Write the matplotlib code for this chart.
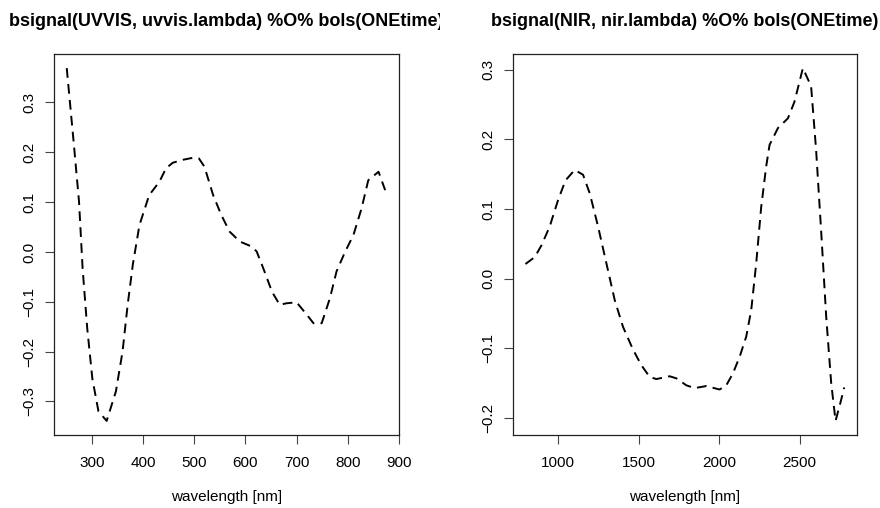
import matplotlib
matplotlib.use("Agg")
import matplotlib.pyplot as plt
from matplotlib.transforms import Bbox, TransformedBbox

plt.rcParams['font.family'] = ['Liberation Sans', 'DejaVu Sans']
plt.rcParams['lines.scale_dashes'] = False

uvvis_lambda = [251, 265, 275, 282, 291, 301, 313, 329, 347, 360, 370, 380, 393, 412,
                432, 445, 458, 478, 497, 509, 520, 537, 553, 569, 589, 612, 622, 635,
                652, 667, 680, 700, 720, 733, 749, 765, 778, 795, 811, 827, 840, 860, 873]
uvvis_signal = [0.369, 0.215, 0.101, -0.033, -0.153, -0.254, -0.320, -0.339, -0.280,
                -0.200, -0.106, -0.026, 0.054, 0.114, 0.141, 0.168, 0.179, 0.185, 0.189,
                0.188, 0.171, 0.114, 0.074, 0.041, 0.021, 0.011, 0.001, -0.033, -0.080,
                -0.106, -0.103, -0.101, -0.126, -0.143, -0.143, -0.093, -0.039, 0.001,
                0.034, 0.088, 0.144, 0.161, 0.124]

nir_lambda = [797, 855, 897, 948, 1000, 1046, 1103, 1155, 1197, 1248, 1300, 1352, 1403,
              1466, 1517, 1569, 1610, 1693, 1735, 1797, 1848, 1921, 2003, 2045, 2086,
              2128, 2169, 2200, 2231, 2262, 2293, 2314, 2366, 2428, 2469, 2521, 2572,
              2603, 2634, 2666, 2697, 2724, 2753, 2778]
nir_signal = [0.021, 0.031, 0.048, 0.075, 0.113, 0.141, 0.156, 0.149, 0.122, 0.075, 0.022,
              -0.031, -0.069, -0.102, -0.124, -0.141, -0.144, -0.140, -0.143, -0.153,
              -0.157, -0.154, -0.159, -0.153, -0.136, -0.112, -0.083, -0.045, 0.022,
              0.103, 0.161, 0.192, 0.216, 0.230, 0.254, 0.302, 0.276, 0.185, 0.070,
              -0.055, -0.150, -0.204, -0.179, -0.156]

titles = ["bsignal(UVVIS, uvvis.lambda) %O% bols(ONEtime)",
          "bsignal(NIR, nir.lambda) %O% bols(ONEtime)"]
xticks = [[300, 400, 500, 600, 700, 800, 900], [1000, 1500, 2000, 2500]]
yticks = [[-0.3, -0.2, -0.1, 0.0, 0.1, 0.2, 0.3], [-0.2, -0.1, 0.0, 0.1, 0.2, 0.3]]
xlabel = "wavelength [nm]"

W, H = 880, 508
fig = plt.figure(figsize=(W / 100, H / 100), dpi=100)

boxes = [(54, 54, 399, 435), (512.7, 54, 857, 435)]
regions = [(0, 0.5), (0.5, 1.0)]
data = [(uvvis_lambda, uvvis_signal), (nir_lambda, nir_signal)]

for i in range(2):
    x0, y0, x1, y1 = boxes[i]
    ax = fig.add_axes([x0 / W, 1 - y1 / H, (x1 - x0) / W, (y1 - y0) / H])
    xs, ys = data[i]
    ax.plot(xs, ys, color='black', lw=1.4, linestyle=(0, (7, 4.5)))
    ax.margins(x=0.04, y=0.04)
    ax.set_xticks(xticks[i])
    ax.set_xticklabels([str(t) for t in xticks[i]])
    ax.set_yticks(yticks[i])
    ax.set_yticklabels([f"{t:.1f}".replace("-", "\u2212") for t in yticks[i]],
                       rotation=90, va='center')
    ax.tick_params(axis='both', labelsize=11, length=6.5, width=0.8, color='#444444')
    ax.tick_params(axis='x', pad=8.5)
    ax.tick_params(axis='y', pad=6)
    for s in ax.spines.values():
        s.set_linewidth(0.9)
        s.set_color('#222222')
    ax.set_xlabel(xlabel, fontsize=11, labelpad=14.5)
    t = ax.set_title(titles[i], fontsize=13, fontweight='bold', pad=20)
    clip = TransformedBbox(Bbox([[regions[i][0], 0], [regions[i][1], 1]]), fig.transFigure)
    t.set_clip_box(clip)
    t.set_clip_on(True)

fig.savefig("out.png", dpi=100)
